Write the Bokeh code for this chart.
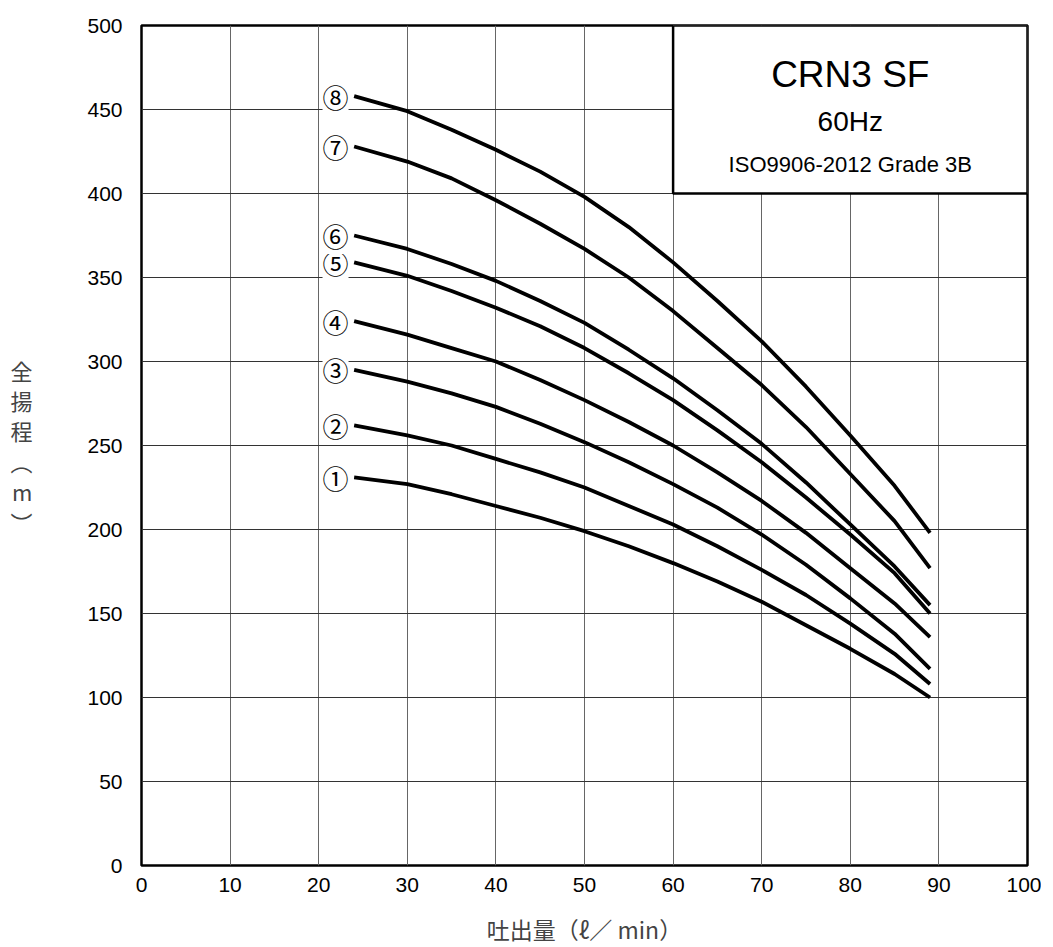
from bokeh.plotting import figure
from bokeh.models import Label, Range1d, FixedTicker
from bokeh.core.properties import value
from bokeh.embed import file_html
from bokeh.resources import INLINE

# ---- data ----
flow = [24, 30, 35, 40, 45, 50, 55, 60, 65, 70, 75, 80, 85, 89]
head_1 = [231, 227, 221, 214, 207, 199, 190, 180, 169, 157, 143, 129, 114, 100]
head_2 = [262, 256, 250, 242, 234, 225, 214, 203, 190, 176, 161, 144, 126, 108]
head_3 = [295, 288, 281, 273, 263, 252, 240, 227, 213, 197, 179, 159, 138, 117]
head_4 = [324, 316, 308, 300, 289, 277, 264, 250, 234, 217, 198, 177, 156, 136]
head_5 = [359, 351, 342, 332, 321, 308, 293, 277, 259, 240, 219, 197, 174, 150]
head_6 = [375, 367, 358, 348, 336, 323, 307, 290, 271, 251, 228, 203, 178, 155]
head_7 = [428, 419, 409, 396, 382, 367, 350, 330, 308, 286, 261, 233, 205, 177]
head_8 = [458, 449, 438, 426, 413, 398, 380, 359, 336, 312, 285, 256, 226, 198]
curve_labels = ["①", "②", "③", "④", "⑤", "⑥", "⑦", "⑧"]
x_ticks = [0, 10, 20, 30, 40, 50, 60, 70, 80, 90, 100]
y_ticks = [0, 50, 100, 150, 200, 250, 300, 350, 400, 450, 500]
title_lines = ["CRN3 SF", "60Hz", "ISO9906-2012 Grade 3B"]
x_title = "吐出量（ℓ／ min）"
y_title = "全\n揚\n程\n︵\nm\n︶"

curves = [head_1, head_2, head_3, head_4, head_5, head_6, head_7, head_8]

FONT = "Liberation Sans"
CJK = "Noto Sans CJK JP"

p = figure(frame_width=886, frame_height=840,
           x_range=Range1d(0, 100), y_range=Range1d(0, 500),
           output_backend="svg", toolbar_location=None,
           min_border_left=141, min_border_top=25, min_border_right=14,
           min_border_bottom=81)
p.background_fill_color = "white"
p.border_fill_color = "white"
p.outline_line_color = "black"
p.outline_line_width = 2.5

for ax, ticks in ((p.xaxis, x_ticks), (p.yaxis, y_ticks)):
    ax.ticker = FixedTicker(ticks=ticks)
    ax.axis_line_color = None
    ax.major_tick_line_color = None
    ax.minor_tick_line_color = None
    ax.major_label_text_font = FONT
    ax.major_label_text_font_size = "21px"
    ax.major_label_text_color = "black"

p.xaxis.major_label_standoff = 6
p.yaxis.major_label_standoff = 13

p.xaxis.axis_label = x_title
p.xaxis.axis_label_text_font = CJK
p.xaxis.axis_label_text_font_size = "23px"
p.xaxis.axis_label_text_font_style = "normal"
p.xaxis.axis_label_standoff = 17

p.yaxis.axis_label = y_title
p.yaxis.axis_label_orientation = "horizontal"
p.yaxis.axis_label_text_font = CJK
p.yaxis.axis_label_text_font_size = "22px"
p.yaxis.axis_label_text_font_style = "normal"
p.yaxis.axis_label_text_line_height = 0.95
p.yaxis.axis_label_standoff = 52

p.xgrid.grid_line_color = "#666666"
p.ygrid.grid_line_color = "#333333"
p.xgrid.grid_line_width = 1
p.ygrid.grid_line_width = 1

# curves
for c in curves:
    p.line(flow, c, line_color="black", line_width=3.8)

# circled labels at curve start
for lab, c in zip(curve_labels, curves):
    p.add_layout(Label(x=21.9, y=c[0], text=lab, text_font=CJK,
                       text_font_size="26px", text_align="center",
                       text_baseline="middle", text_color="black",
                       background_fill_color="white"))

# title box
p.quad(left=[60], right=[100], bottom=[400], top=[500],
       fill_color="white", line_color="black", line_width=2.5)
p.text(x=[80], y=[471], text=[title_lines[0]], text_font=value(FONT),
       text_font_size="37px", text_align="center", text_baseline="middle")
p.text(x=[80], y=[443], text=[title_lines[1]], text_font=value(FONT),
       text_font_size="28px", text_align="center", text_baseline="middle")
p.text(x=[80], y=[417], text=[title_lines[2]], text_font=value(FONT),
       text_font_size="22px", text_align="center", text_baseline="middle")

open("out.html", "w").write(file_html(p, INLINE))
